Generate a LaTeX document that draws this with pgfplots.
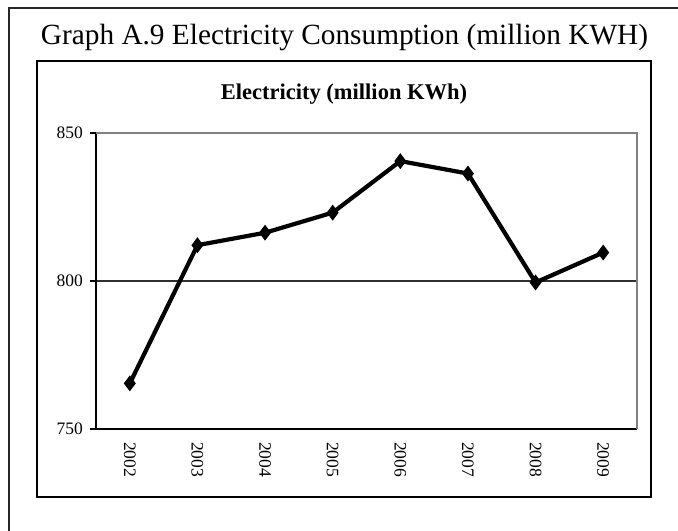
\documentclass[border=0pt]{standalone}
\usepackage{fontspec}
\setmainfont{Liberation Serif}
\usepackage{pgfplots}
\pgfplotsset{compat=1.18}
\definecolor{bordergray}{HTML}{808080}
\definecolor{gridgray}{HTML}{303030}
\newcommand\tlf{\fontsize{17.5bp}{20bp}\selectfont}
\begin{document}
\begin{tikzpicture}[x=1bp,y=1bp]
\useasboundingbox (0,0) rectangle (678,531);
% outer frame (partly cut)
\draw[line width=1.6bp,black!85] (9,0) -- (9,523) -- (678,523);
% inner box
\draw[line width=2bp,black] (37,34) rectangle (651,470);
% outer title
\node[anchor=base,inner sep=0pt] at (344.5,486) {\fontsize{29.3bp}{32bp}\selectfont Graph A.9 Electricity Consumption (million KWH)};
% chart title
\node[anchor=base,inner sep=0pt] at (344,431) {\fontsize{22.5bp}{26bp}\selectfont\bfseries Electricity (million KWh)};
\begin{axis}[
  at={(96bp,102bp)}, anchor=south west,
  scale only axis, width=541bp, height=296bp,
  xmin=-0.5, xmax=7.5, ymin=750, ymax=850,
  axis x line*=bottom, axis y line*=left,
  axis line style={line width=1.8bp, black, -},
  xtick={0,...,7},
  xticklabels={2002,2003,2004,2005,2006,2007,2008,2009},
  minor xtick={-0.5,0.5,1.5,2.5,3.5,4.5,5.5,6.5,7.5},
  ytick={750,800,850},
  yticklabel={\pgfmathprintnumber[assume math mode=true]{\tick}},
  tick align=outside,
  x tick style={draw=none},
  minor x tick style={line width=1.2bp, black},
  minor tick length=5bp,
  y tick style={line width=1.2bp, black},
  major tick length=6bp,
  ymajorgrids,
  grid style={line width=1.2bp, gridgray},
  xticklabel style={rotate=-90, anchor=west, inner sep=0pt, font=\tlf},
  yticklabel style={anchor=east, inner sep=0pt, xshift=-7bp, font=\tlf},
  xticklabel shift=7bp,
  clip=false,
]
\draw[line width=1.2bp, bordergray] (rel axis cs:0,1) -- (rel axis cs:1,1) -- (rel axis cs:1,0);
\addplot[black, line width=4.2bp, mark=diamond*, mark size=4.5bp, mark options={solid}] coordinates {
(0,765.4) (1,812.1) (2,816.3) (3,823.1) (4,840.5) (5,836.3) (6,799.5) (7,809.6)
};
\end{axis}
\end{tikzpicture}
\end{document}
